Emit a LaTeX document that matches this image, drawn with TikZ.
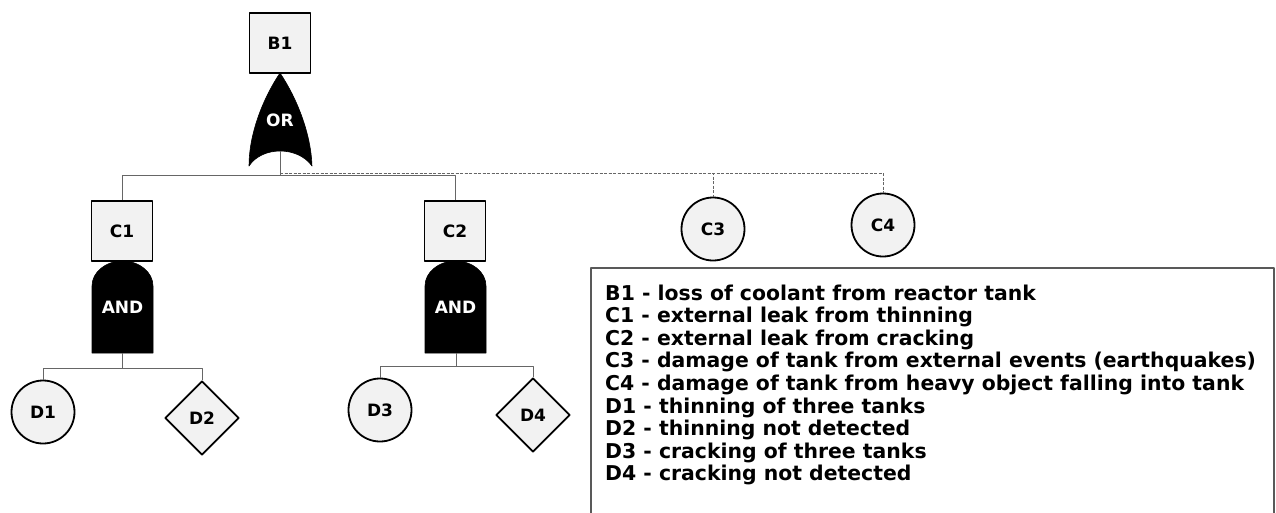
\documentclass[tikz,border=0pt]{standalone}
\usepackage{fontspec}
\setmainfont{DejaVu Sans}
\usetikzlibrary{shapes.geometric}
\providecommand{\ftFillColor}{black!5}
\providecommand{\ftWireColor}{black!60}
\providecommand{\ftLegendBorderColor}{black!65}
\providecommand{\ftShapeLineWidth}{1.8pt}
\providecommand{\ftWireWidth}{1pt}
\providecommand{\ftLabelFont}{\fontsize{17}{20}\selectfont\bfseries}
\providecommand{\ftLegendFont}{\fontsize{20.4}{24}\selectfont\bfseries}
\begin{document}
\begin{tikzpicture}[x=1pt, y=-1pt, line join=round,
  event/.style={draw=black, fill=\ftFillColor, line width=\ftShapeLineWidth, font=\ftLabelFont, inner sep=0pt},
  eventbox/.style={event, rectangle, minimum width=61pt, minimum height=60pt},
  basicevent/.style={event, circle, minimum size=63pt},
  undevevent/.style={event, diamond, minimum width=74pt, minimum height=74pt},
  gateshape/.style={fill=black, draw=black, line width=0.6pt},
  gatelabel/.style={text=white, font=\ftLabelFont, inner sep=0pt},
  wire/.style={draw=\ftWireColor, line width=\ftWireWidth},
  dashwire/.style={wire, dash pattern=on 3pt off 1.5pt},
  legendline/.style={anchor=base west, inner sep=0pt, font=\ftLegendFont}]
\clip (0,0) rectangle (1276,512);
% Events
\node[eventbox] (B1) at (280,43) {B1};
\node[eventbox] (C1) at (122,231) {C1};
\node[eventbox] (C2) at (455,231) {C2};
\node[basicevent] (C3) at (713,229) {C3};
\node[basicevent] (C4) at (883,225) {C4};
\node[basicevent] (D1) at (43,412) {D1};
\node[undevevent] (D2) at (202,418) {D2};
\node[basicevent] (D3) at (380,410) {D3};
\node[undevevent] (D4) at (533,415) {D4};
% OR gate below B1
\filldraw[gateshape] (280,73) .. controls (262,100) and (249,135) .. (249,166)
  .. controls (262,146) and (298,146) .. (312,166)
  .. controls (311,135) and (298,100) .. (280,73) -- cycle;
\node[gatelabel] (orB1) at (280,120) {OR};
% AND gates below C1 and C2
\filldraw[gateshape] (92,353) -- (92,286) arc[start angle=180, end angle=0, x radius=30.5pt, y radius=25pt] -- (153,353) -- cycle;
\node[gatelabel] (andC1) at (122.5,307) {AND};
\filldraw[gateshape] (425,353) -- (425,286) arc[start angle=180, end angle=0, x radius=30.5pt, y radius=25pt] -- (486,353) -- cycle;
\node[gatelabel] (andC2) at (455.5,307) {AND};
% Gate outputs and buses
\coordinate (orout) at (280,151);
\coordinate (orbus) at (280,175);
\coordinate (andoutA) at (122,353);
\coordinate (busA) at (122,368);
\coordinate (andoutB) at (456,353);
\coordinate (busB) at (456,366);
% Connectors
\draw[wire] (orout) -- (orbus) -| (C1.north);
\draw[wire] (orbus) -| (C2.north);
\draw[dashwire] ([yshift=2pt]orbus) -| (C3.north);
\draw[dashwire] ([yshift=2pt]orbus) -| (C4.north);
\draw[wire] (andoutA) -- (busA) -| (D1.north);
\draw[wire] (busA) -| (D2.north);
\draw[wire] (andoutB) -- (busB) -| (D3.north);
\draw[wire] (busB) -| (D4.north);
% Legend
\draw[draw=\ftLegendBorderColor, line width=1.2pt] (591,268) rectangle (1274,530);
\foreach \entry [count=\i from 0] in {
  {B1 - loss of coolant from reactor tank},
  {C1 - external leak from thinning},
  {C2 - external leak from cracking},
  {C3 - damage of tank from external events (earthquakes)},
  {C4 - damage of tank from heavy object falling into tank},
  {D1 - thinning of three tanks},
  {D2 - thinning not detected},
  {D3 - cracking of three tanks},
  {D4 - cracking not detected}}
  \node[legendline] (leg\i) at (605, 300+22.6*\i) {\entry};
\end{tikzpicture}
\end{document}
